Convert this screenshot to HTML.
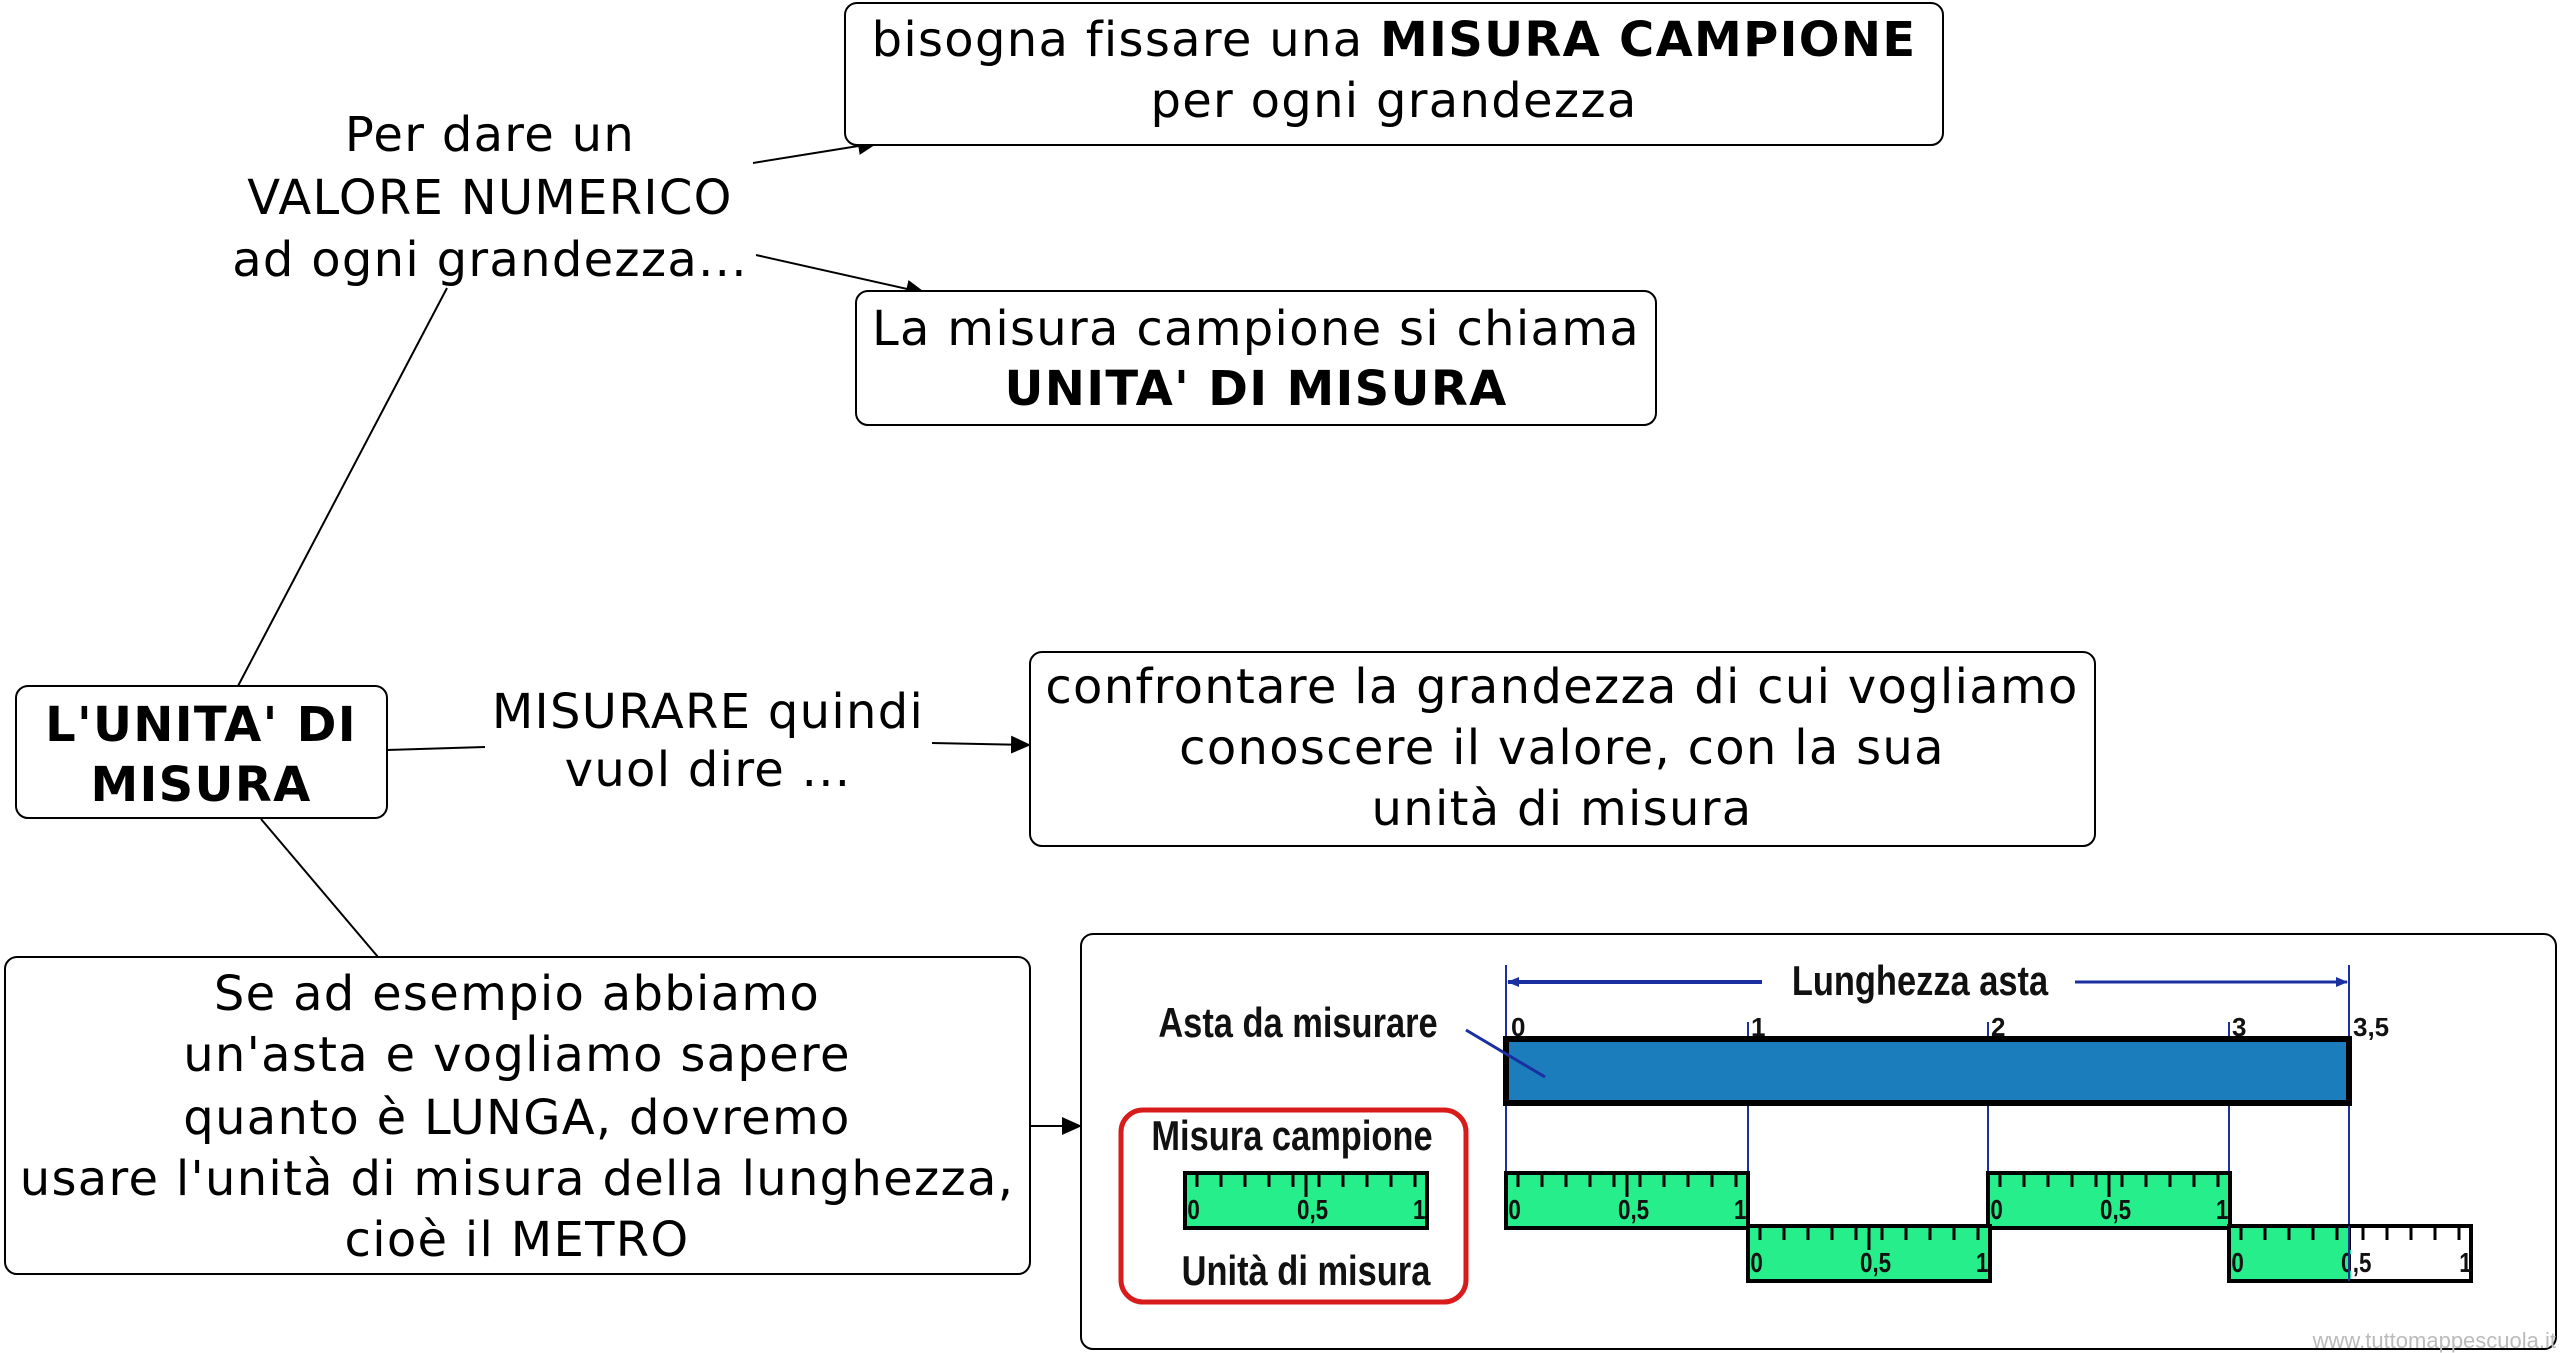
<!DOCTYPE html>
<html><head><meta charset="utf-8"><style>
html,body{margin:0;padding:0;background:#fff;}
svg{display:block;}
.t{font-family:"DejaVu Sans","Liberation Sans",sans-serif;font-size:48px;letter-spacing:1.3px;fill:#000;}
.n{font-family:"Liberation Sans",sans-serif;font-weight:bold;fill:#111;}
</style></head><body>
<svg width="2560" height="1353" viewBox="0 0 2560 1353" xmlns="http://www.w3.org/2000/svg">
<defs>
<marker id="a" markerWidth="20" markerHeight="18" refX="19" refY="9" orient="auto" markerUnits="userSpaceOnUse" viewBox="0 0 20 18"><path d="M0,0 L20,9 L0,18 z" fill="#000"/></marker>
<marker id="ab" markerWidth="12" markerHeight="10" refX="11" refY="5" orient="auto" markerUnits="userSpaceOnUse" viewBox="0 0 12 10"><path d="M0,0 L12,5 L0,10 z" fill="#1a2fa0"/></marker>
<g id="ruler">
<rect x="0" y="0" width="242" height="55" fill="#25ee8a" stroke="#000" stroke-width="4"/>
<g stroke="#000" stroke-width="3">
<line x1="12" y1="0" x2="12" y2="14"/><line x1="36" y1="0" x2="36" y2="14"/><line x1="60" y1="0" x2="60" y2="14"/><line x1="84" y1="0" x2="84" y2="14"/><line x1="108" y1="0" x2="108" y2="14"/><line x1="121" y1="0" x2="121" y2="24"/><line x1="134" y1="0" x2="134" y2="14"/><line x1="158" y1="0" x2="158" y2="14"/><line x1="182" y1="0" x2="182" y2="14"/><line x1="206" y1="0" x2="206" y2="14"/><line x1="230" y1="0" x2="230" y2="14"/>
</g>
<text class="n" x="3" y="46" font-size="28" transform="scale(0.8 1)">0</text>
<text class="n" x="140" y="46" font-size="28" transform="scale(0.8 1)">0,5</text>
<text class="n" x="285" y="46" font-size="28" transform="scale(0.8 1)">1</text>
</g>
</defs>

<g stroke="#000" stroke-width="2" fill="none">
<line x1="238" y1="686" x2="447" y2="288"/>
<line x1="753" y1="163" x2="877" y2="143" marker-end="url(#a)"/>
<line x1="756" y1="255" x2="925" y2="293" marker-end="url(#a)"/>
<line x1="387" y1="750" x2="485" y2="747"/>
<line x1="932" y1="743" x2="1030" y2="745" marker-end="url(#a)"/>
<line x1="261" y1="819" x2="378" y2="957"/>
<line x1="1030" y1="1126" x2="1081" y2="1126" marker-end="url(#a)"/>
</g>

<g fill="#fff" stroke="#000" stroke-width="2">
<rect x="845" y="3" width="1098" height="142" rx="12"/>
<rect x="856" y="291" width="800" height="134" rx="12"/>
<rect x="16" y="686" width="371" height="132" rx="12"/>
<rect x="1030" y="652" width="1065" height="194" rx="12"/>
<rect x="5" y="957" width="1025" height="317" rx="12"/>
<rect x="1081" y="934" width="1475" height="415" rx="12"/>
</g>

<g class="t" text-anchor="middle">
<text x="1394" y="56">bisogna fissare una <tspan font-weight="bold">MISURA CAMPIONE</tspan></text>
<text x="1394" y="117">per ogni grandezza</text>
<text x="490" y="151">Per dare un</text>
<text x="490" y="214">VALORE NUMERICO</text>
<text x="490" y="276">ad ogni grandezza...</text>
<text x="1256" y="345">La misura campione si chiama</text>
<text x="1256" y="405" font-weight="bold">UNITA' DI MISURA</text>
<text x="201" y="741" font-weight="bold">L'UNITA' DI</text>
<text x="201" y="801" font-weight="bold">MISURA</text>
<text x="708" y="728">MISURARE quindi</text>
<text x="708" y="786">vuol dire ...</text>
<text x="1562" y="703">confrontare la grandezza di cui vogliamo</text>
<text x="1562" y="764">conoscere il valore, con la sua</text>
<text x="1562" y="825">unità di misura</text>
<text x="517" y="1010">Se ad esempio abbiamo</text>
<text x="517" y="1071">un'asta e vogliamo sapere</text>
<text x="517" y="1134">quanto è LUNGA, dovremo</text>
<text x="517" y="1195">usare l'unità di misura della lunghezza,</text>
<text x="517" y="1256">cioè il METRO</text>
</g>

<g>
<g stroke="#1a2fa0" stroke-width="2">
<line x1="1506" y1="965" x2="1506" y2="1228"/>
<line x1="1748" y1="1022" x2="1748" y2="1228"/>
<line x1="1988" y1="1022" x2="1988" y2="1228"/>
<line x1="2229" y1="1022" x2="2229" y2="1228"/>
<line x1="2349" y1="965" x2="2349" y2="1228"/>
</g>
<line x1="1762" y1="982" x2="1508" y2="982" stroke="#1a2fa0" stroke-width="4" marker-end="url(#ab)"/>
<line x1="2075" y1="982" x2="2347" y2="982" stroke="#1a2fa0" stroke-width="3" marker-end="url(#ab)"/>
<text class="n" x="1920" y="995" font-size="42" font-weight="normal" text-anchor="middle" transform="translate(1920 0) scale(0.82 1) translate(-1920 0)">Lunghezza asta</text>
<g class="n" font-size="26">
<text x="1511" y="1036">0</text><text x="1751" y="1036">1</text><text x="1991" y="1036">2</text><text x="2232" y="1036">3</text><text x="2353" y="1036">3,5</text>
</g>
<text class="n" x="1298" y="1037" font-size="42" font-weight="normal" text-anchor="middle" transform="translate(1298 0) scale(0.82 1) translate(-1298 0)">Asta da misurare</text>
<rect x="1506" y="1039" width="843" height="64" fill="#1c7dbd" stroke="#000" stroke-width="6"/>
<line x1="1466" y1="1030" x2="1545" y2="1077" stroke="#1a2fa0" stroke-width="3"/>
<rect x="1121" y="1110" width="345" height="192" rx="22" fill="none" stroke="#d81c1c" stroke-width="5"/>
<text class="n" x="1292" y="1150" font-size="42" font-weight="normal" text-anchor="middle" transform="translate(1292 0) scale(0.82 1) translate(-1292 0)">Misura campione</text>
<text class="n" x="1306" y="1285" font-size="42" font-weight="normal" text-anchor="middle" transform="translate(1306 0) scale(0.82 1) translate(-1306 0)">Unità di misura</text>
<use href="#ruler" x="1185" y="1173"/>
<use href="#ruler" x="1506" y="1173"/>
<use href="#ruler" x="1988" y="1173"/>
<use href="#ruler" x="1748" y="1226"/>
<use href="#ruler" x="2229" y="1226"/>
<rect x="2351" y="1228" width="118" height="51" fill="#fff"/>
<g stroke="#000" stroke-width="3">
<line x1="2363" y1="1226" x2="2363" y2="1240"/><line x1="2387" y1="1226" x2="2387" y2="1240"/><line x1="2411" y1="1226" x2="2411" y2="1240"/><line x1="2435" y1="1226" x2="2435" y2="1240"/><line x1="2459" y1="1226" x2="2459" y2="1240"/>
</g>
<text class="n" x="2941" y="1272" font-size="28" transform="scale(0.8 1)">,5</text>
<text class="n" x="3074" y="1272" font-size="28" transform="scale(0.8 1)">1</text>
<line x1="2349" y1="1226" x2="2349" y2="1281" stroke="#1a2fa0" stroke-width="2"/>
</g>
<text x="2556" y="1348" font-family="Liberation Sans,sans-serif" font-size="22" fill="#bbb" text-anchor="end">www.tuttomappescuola.it</text>
</svg>
</body></html>
